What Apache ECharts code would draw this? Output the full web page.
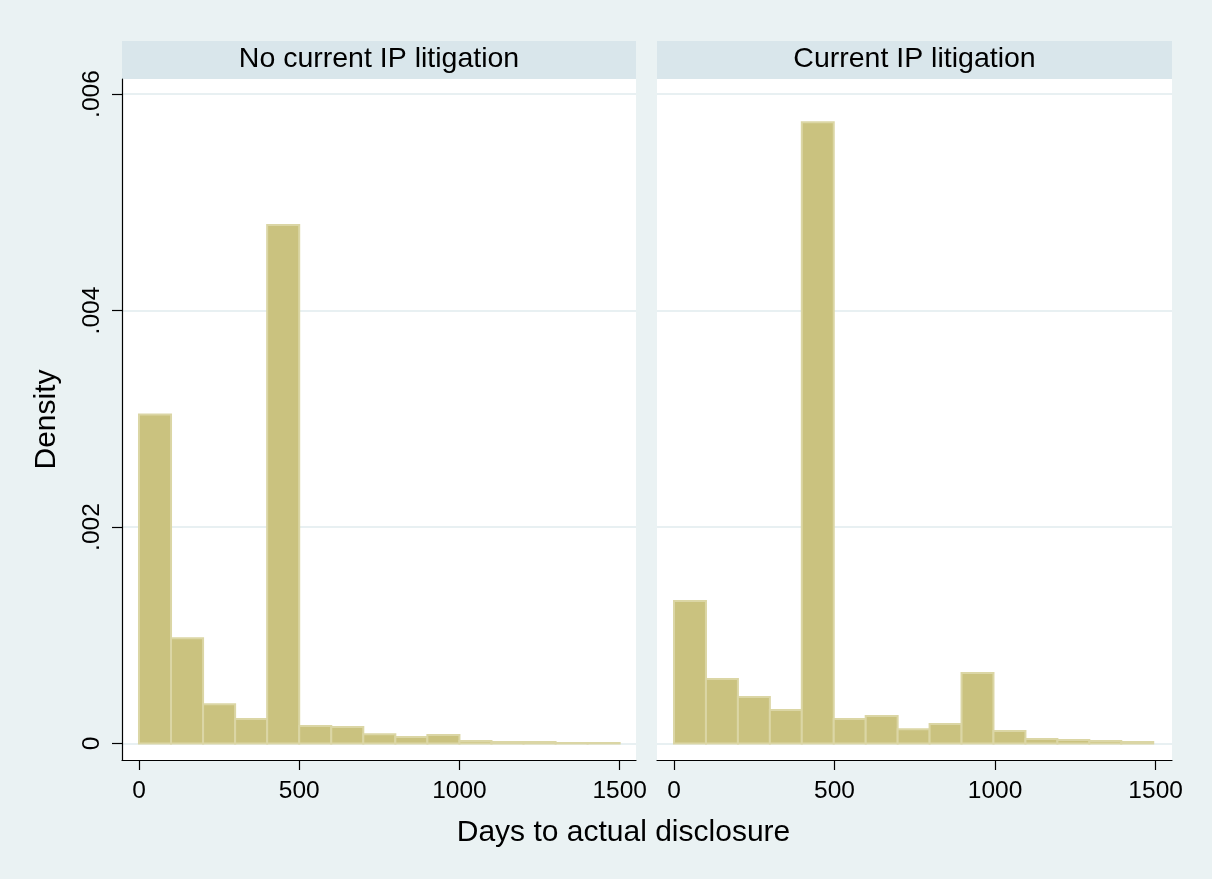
<!DOCTYPE html>
<html>
<head>
<meta charset="utf-8">
<script src="https://cdn.jsdelivr.net/npm/echarts@6/dist/echarts.min.js"></script>
<style>
html,body{margin:0;padding:0;background:#eaf2f3;}
#chart{width:1212px;height:879px;}
</style>
</head>
<body>
<div id="chart"></div>
<script>
// ---- data ----
const panelTitles = ['No current IP litigation', 'Current IP litigation'];
const xTicks = [0, 500, 1000, 1500];
const xTickLabels = ['0', '500', '1000', '1500'];
const yTicks = [0, 0.002, 0.004, 0.006];
const yTickLabels = ['0', '.002', '.004', '.006'];
const xTitle = 'Days to actual disclosure';
const yTitle = 'Density';

// bin edges (days) and densities for each panel
const leftEdges = [0, 100, 200, 300, 400, 500, 600, 700, 800, 900, 1000, 1100, 1200, 1300, 1400, 1500];
const leftDensity = [0.00304, 0.000972, 0.000362, 0.000226, 0.00479, 0.000162, 0.000152, 0.000085, 0.00006, 0.000079, 0.000023, 0.000014, 0.000014, 0.000005, 0.000005];

const rightEdges = [0, 99.5, 199, 298.5, 398, 497.5, 597, 696.5, 796, 895.5, 995, 1094.5, 1194, 1293.5, 1393, 1492.5];
const rightDensity = [0.001316, 0.000596, 0.00043, 0.00031, 0.00574, 0.000226, 0.000254, 0.000131, 0.00018, 0.000651, 0.000115, 0.000042, 0.000032, 0.000023, 0.000014];

function binRows(edges, dens) {
  return dens.map((d, i) => [edges[i], edges[i + 1], d]);
}
function labelFor(ticks, labels) {
  return v => { const i = ticks.findIndex(t => Math.abs(t - v) < 1e-9); return i >= 0 ? labels[i] : ''; };
}

const FONT = 'Liberation Sans, Arial, Helvetica, sans-serif';
const BAR_FILL = '#cac27f';
const BAR_STROKE = '#dbd6a5';

const chart = echarts.init(document.getElementById('chart'), null, {renderer: 'canvas'});

function xAxisFor(gi) {
  return {
    type: 'value', gridIndex: gi, min: -53, max: 1551,
    axisLine: {show: true, onZero: false, lineStyle: {color: '#000', width: 1.2}},
    axisTick: {show: true, length: 10, customValues: xTicks, lineStyle: {color: '#000', width: 1.2}},
    axisLabel: {show: true, customValues: xTicks, margin: 19, fontSize: 24.5, color: '#000', fontFamily: FONT,
      formatter: labelFor(xTicks, xTickLabels)},
    splitLine: {show: false}
  };
}
function yAxisFor(gi, showAxis) {
  return {
    type: 'value', gridIndex: gi, min: -0.000152, max: 0.006139,
    name: showAxis ? yTitle : '', nameLocation: 'middle', nameGap: 60, nameRotate: 90,
    nameTextStyle: {fontSize: 30, color: '#000', fontFamily: FONT},
    axisLine: {show: showAxis, onZero: false, lineStyle: {color: '#000', width: 1.2}},
    axisTick: {show: true, length: showAxis ? 10 : 0, customValues: yTicks, lineStyle: {color: '#000', width: 1.2}},
    axisLabel: {show: showAxis, customValues: yTicks, rotate: 90, margin: 17, fontSize: 24.5, color: '#000', fontFamily: FONT,
      formatter: labelFor(yTicks, yTickLabels)},
    splitLine: {show: true, lineStyle: {color: '#e8f0f2', width: 2}}
  };
}

function renderBin(params, api) {
  const a = api.coord([api.value(0), api.value(2)]);
  const b = api.coord([api.value(1), 0]);
  return {
    type: 'rect',
    shape: {x: a[0], y: a[1], width: b[0] - a[0], height: b[1] - a[1]},
    style: {fill: BAR_FILL, stroke: BAR_STROKE, lineWidth: 2}
  };
}

const grids = [
  {left: 122, right: 576, top: 79, bottom: 119},
  {left: 657, right: 40, top: 79, bottom: 119}
];

const option = {
  backgroundColor: '#eaf2f3',
  animation: false,
  grid: grids.map(g => Object.assign({show: true, backgroundColor: '#ffffff', borderWidth: 0}, g)),
  xAxis: [xAxisFor(0), xAxisFor(1)],
  yAxis: [yAxisFor(0, true), yAxisFor(1, false)],
  series: [
    {type: 'custom', xAxisIndex: 0, yAxisIndex: 0, data: binRows(leftEdges, leftDensity), encode: {x: [0, 1], y: 2}, renderItem: renderBin},
    {type: 'custom', xAxisIndex: 1, yAxisIndex: 1, data: binRows(rightEdges, rightDensity), encode: {x: [0, 1], y: 2}, renderItem: renderBin}
  ],
  graphic: [
    {type: 'rect', left: 122, top: 41, shape: {width: 514, height: 38}, style: {fill: '#d9e6eb'}},
    {type: 'rect', left: 657, top: 41, shape: {width: 515, height: 38}, style: {fill: '#d9e6eb'}},
    {type: 'text', x: 379, y: 59, style: {text: panelTitles[0], fill: '#000', font: '28.5px ' + FONT, textAlign: 'center', textVerticalAlign: 'middle'}},
    {type: 'text', x: 914.5, y: 59, style: {text: panelTitles[1], fill: '#000', font: '28.5px ' + FONT, textAlign: 'center', textVerticalAlign: 'middle'}},
    {type: 'text', x: 623.5, y: 833, style: {text: xTitle, fill: '#000', font: '30px ' + FONT, textAlign: 'center', textVerticalAlign: 'middle'}}
  ]
};
chart.setOption(option);
</script>
</body>
</html>
